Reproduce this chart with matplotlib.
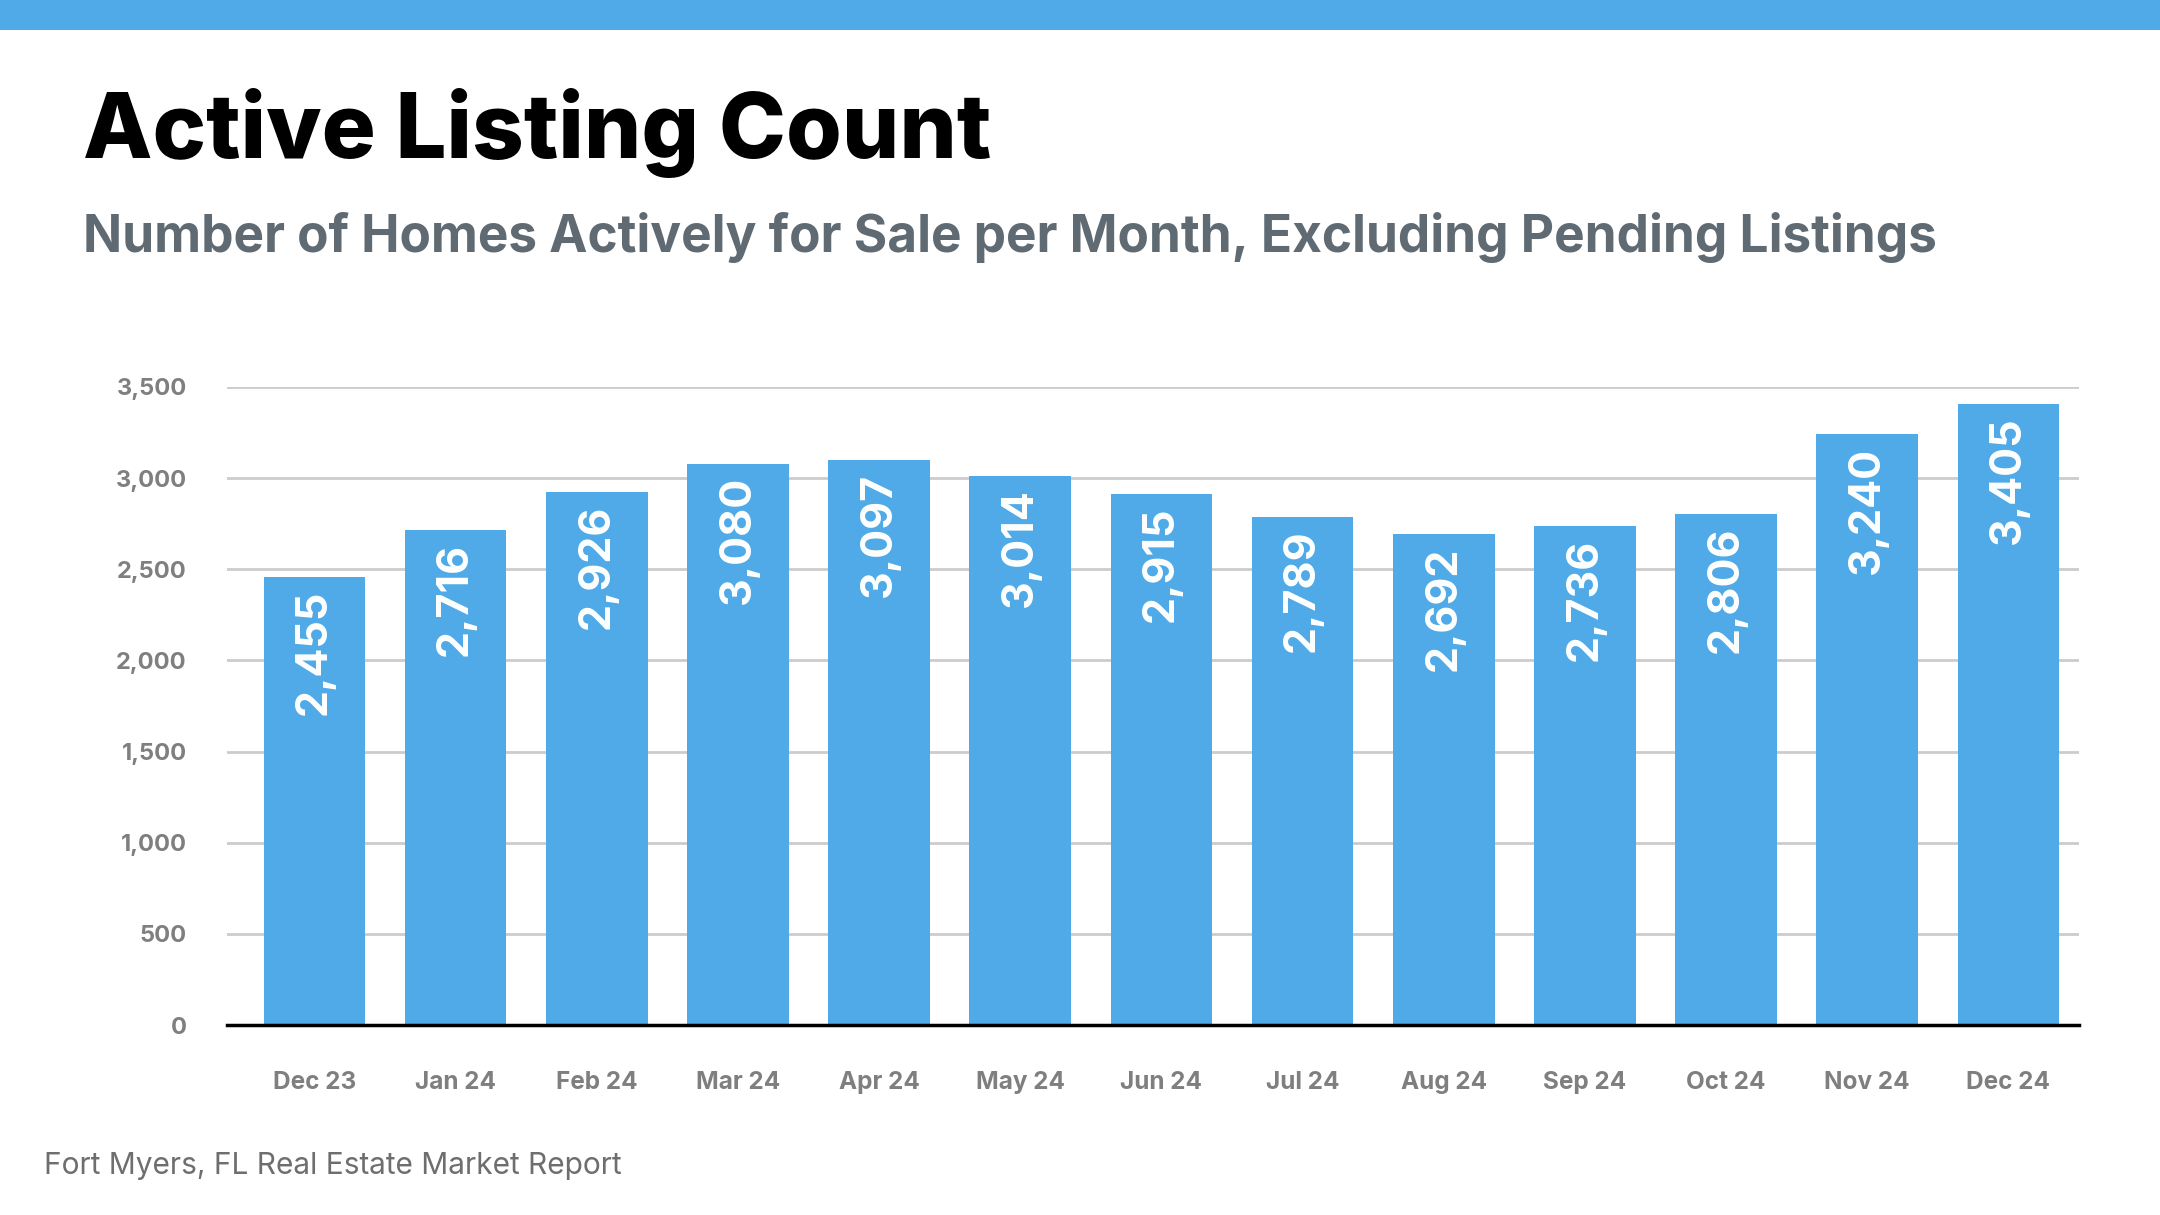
import matplotlib.pyplot as plt
from matplotlib.patches import Rectangle

months = ['Dec 23', 'Jan 24', 'Feb 24', 'Mar 24', 'Apr 24', 'May 24', 'Jun 24',
          'Jul 24', 'Aug 24', 'Sep 24', 'Oct 24', 'Nov 24', 'Dec 24']
listings = [2455, 2716, 2926, 3080, 3097, 3014, 2915, 2789, 2692, 2736, 2806, 3240, 3405]
y_ticks = [0, 500, 1000, 1500, 2000, 2500, 3000, 3500]

BLUE = '#4faae7'
plt.rcParams['font.family'] = ['Inter', 'DejaVu Sans']

W, H = 2160, 1215
fig = plt.figure(figsize=(W / 100, H / 100), dpi=100)
fig.patch.set_facecolor('white')

# blue band on top
fig.add_artist(Rectangle((0, 1 - 30 / H), 1, 30 / H, transform=fig.transFigure,
                         color=BLUE, lw=0))

fig.text(83 / W, 1 - 158 / H, 'Active Listing Count', fontsize=65, fontweight='heavy',
         color='black', va='baseline')
fig.text(83 / W, 1 - 252 / H, 'Number of Homes Actively for Sale per Month, Excluding Pending Listings',
         fontsize=37, fontweight='bold', color='#5f6a72', va='baseline')
fig.text(44 / W, 1 - 1166 / H, 'Fort Myers, FL Real Estate Market Report', fontsize=21.5,
         color='#6e6e6e', va='center')

# axes area
left, right, top, bottom = 227, 2079, 387, 1025
ax = fig.add_axes([left / W, 1 - bottom / H, (right - left) / W, (bottom - top) / H])

x = range(len(months))
bars = ax.bar(x, listings, width=0.72, color=BLUE, zorder=2)

ax.set_xlim(-0.62, len(months) - 0.5)
ax.set_ylim(0, 3500)
ax.set_yticks(y_ticks)
ax.set_yticklabels([f'{v:,}' for v in y_ticks])
ax.set_xticks(list(x))
ax.set_xticklabels(months)

ax.grid(axis='y', color='#cccccc', lw=2, zorder=0)
for s in ['top', 'right', 'left']:
    ax.spines[s].set_visible(False)
ax.spines['bottom'].set_color('black')
ax.spines['bottom'].set_linewidth(2.5)
ax.spines['bottom'].set_zorder(3)

ax.tick_params(axis='both', length=0)
ax.tick_params(axis='y', pad=29, labelsize=17, labelcolor='#7f7f7f')
ax.tick_params(axis='x', pad=33, labelsize=17.5, labelcolor='#7f7f7f')
for lab in ax.get_xticklabels() + ax.get_yticklabels():
    lab.set_fontweight('bold')

# value labels inside bars
for bar, v in zip(bars, listings):
    ax.annotate(f'{v:,}', xy=(bar.get_x() + bar.get_width() / 2, v),
                xytext=(0, -9), textcoords='offset points',
                ha='center', va='top', rotation=90,
                fontsize=31, fontweight='bold', color='white', zorder=4)

fig.savefig('out.png', dpi=100, facecolor='white')
